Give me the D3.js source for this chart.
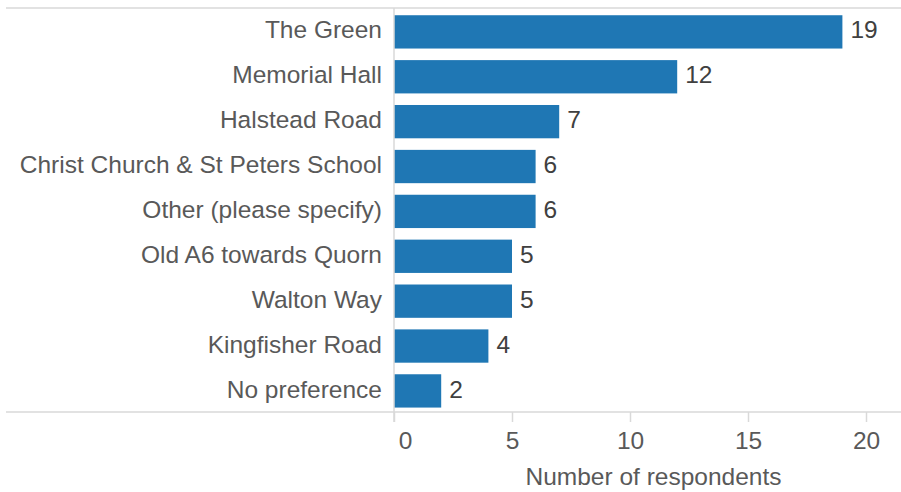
<!DOCTYPE html>
<html>
<head>
<meta charset="utf-8">
<script src="https://cdn.jsdelivr.net/npm/d3@7"></script>
<style>
  html, body { margin: 0; padding: 0; background: #fff; }
  svg { display: block; font-family: "Liberation Sans", Arial, sans-serif; }
</style>
</head>
<body>
<svg id="chart" width="901" height="492"></svg>
<script>
// Preferred locations and how many respondents chose each
const categories = [
  "The Green",
  "Memorial Hall",
  "Halstead Road",
  "Christ Church & St Peters School",
  "Other (please specify)",
  "Old A6 towards Quorn",
  "Walton Way",
  "Kingfisher Road",
  "No preference"
];
const respondents = [19, 12, 7, 6, 6, 5, 5, 4, 2];
const tickValues = [0, 5, 10, 15, 20];
const axisTitle = "Number of respondents";

const svg = d3.select("#chart");
const W = 901;
const plotLeft = 394, plotTop = 8, plotBottom = 412;
const fontSize = 24.5;

const x = d3.scaleLinear().domain([0, 20]).range([plotLeft, 866]);
const y = d3.scaleBand()
  .domain(categories)
  .range([plotTop + 1.4, plotBottom + 1.4])
  .paddingInner(0.258)
  .paddingOuter(0.13);

const rows = categories.map((c, i) => ({ name: c, value: respondents[i] }));
const gridColor = "#d9d9d9";

// Top rule
svg.append("line")
  .attr("x1", 6).attr("x2", W).attr("y1", plotTop).attr("y2", plotTop)
  .attr("stroke", gridColor).attr("stroke-width", 1.5);

// Bars
svg.append("g").selectAll("rect")
  .data(rows)
  .join("rect")
  .attr("x", x(0))
  .attr("y", d => y(d.name))
  .attr("width", d => x(d.value) - x(0))
  .attr("height", y.bandwidth())
  .attr("fill", "#1f77b4");

// Value labels at the end of each bar
svg.append("g").selectAll("text")
  .data(rows)
  .join("text")
  .attr("x", d => x(d.value) + 8)
  .attr("y", d => y(d.name) + y.bandwidth() / 2)
  .attr("dy", "0.27em")
  .attr("font-size", fontSize)
  .attr("fill", "#404040")
  .text(d => d.value);

// Category labels
svg.append("g").selectAll("text")
  .data(rows)
  .join("text")
  .attr("x", plotLeft - 12)
  .attr("y", d => y(d.name) + y.bandwidth() / 2)
  .attr("dy", "0.27em")
  .attr("text-anchor", "end")
  .attr("font-size", fontSize)
  .attr("fill", "#595959")
  .text(d => d.name);

// Bottom axis
const xAxis = d3.axisBottom(x)
  .tickValues(tickValues)
  .tickSize(10)
  .tickPadding(10)
  .tickFormat(d3.format("d"));

const gx = svg.append("g")
  .attr("transform", `translate(0,${plotBottom})`)
  .call(xAxis);
gx.select(".domain").remove();
gx.selectAll(".tick line").attr("stroke", gridColor).attr("stroke-width", 1.5);
gx.selectAll(".tick text")
  .attr("font-size", fontSize)
  .attr("font-family", "Liberation Sans, Arial, sans-serif")
  .attr("fill", "#595959")
  .attr("dx", d => d === 0 ? 11 : 0);

// Bottom rule and zero baseline
svg.append("line")
  .attr("x1", 6).attr("x2", W).attr("y1", plotBottom).attr("y2", plotBottom)
  .attr("stroke", gridColor).attr("stroke-width", 1.5);

svg.append("line")
  .attr("x1", x(0)).attr("x2", x(0)).attr("y1", plotTop).attr("y2", plotBottom + 10)
  .attr("stroke", gridColor).attr("stroke-width", 1.5);

// Axis title
svg.append("text")
  .attr("x", (x(0) + W) / 2 + 6)
  .attr("y", 484.5)
  .attr("text-anchor", "middle")
  .attr("font-size", fontSize)
  .attr("fill", "#595959")
  .text(axisTitle);
</script>
</body>
</html>
